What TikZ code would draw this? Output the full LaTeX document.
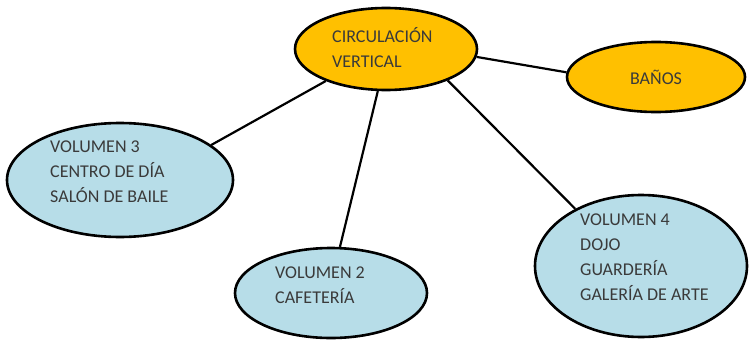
\documentclass[tikz,border=0pt]{standalone}
\usepackage{fontspec}
\setmainfont{Carlito}
\usetikzlibrary{shapes.geometric}
\definecolor{bubgold}{HTML}{FFC000}
\definecolor{bubblue}{HTML}{B7DDE8}
\definecolor{bubtext}{HTML}{3A3A3A}

\begin{document}
\begin{tikzpicture}[x=1pt, y=1pt,
  bub/.style={ellipse, draw=black, line width=2.6pt, inner sep=0pt},
  gold/.style={bub, fill=bubgold},
  blue/.style={bub, fill=bubblue},
  txt/.style={inner sep=0pt, anchor=north west, align=left, text=bubtext,
    font=\fontsize{18}{25}\selectfont},
  link/.style={line width=2.2pt, black}]
\useasboundingbox (0,0) rectangle (749,341);

%core
\node[gold, minimum width=182, minimum height=82] (circ) at (386,292) {};
\node[txt] (circ text) at (332,314) {CIRCULACIÓN\\VERTICAL};

%services
\node[gold, minimum width=178, minimum height=70, text=bubtext,
  font=\fontsize{18}{25}\selectfont] (banos) at (656,264) {BAÑOS};

%volumes
\node[blue, minimum width=226, minimum height=114] (v3) at (120,161) {};
\node[txt] (v3 text) at (50,200) {VOLUMEN 3\\CENTRO DE DÍA\\SALÓN DE BAILE};

\node[blue, minimum width=192, minimum height=90] (v2) at (331,48) {};
\node[txt] (v2 text) at (275,74) {VOLUMEN 2\\CAFETERÍA};

\node[blue, minimum width=212, minimum height=142] (v4) at (641,75) {};
\node[txt] (v4 text) at (580,127.5) {VOLUMEN 4\\DOJO\\GUARDERÍA\\GALERÍA DE ARTE};

%links
\draw[link] (circ.-152) -- (v3.21);
\draw[link] (circ.-101) -- (v2.79);
\draw[link] (circ.-27) -- (v4.139);
\draw[link] (circ.-5) -- (banos.177);
\end{tikzpicture}
\end{document}
